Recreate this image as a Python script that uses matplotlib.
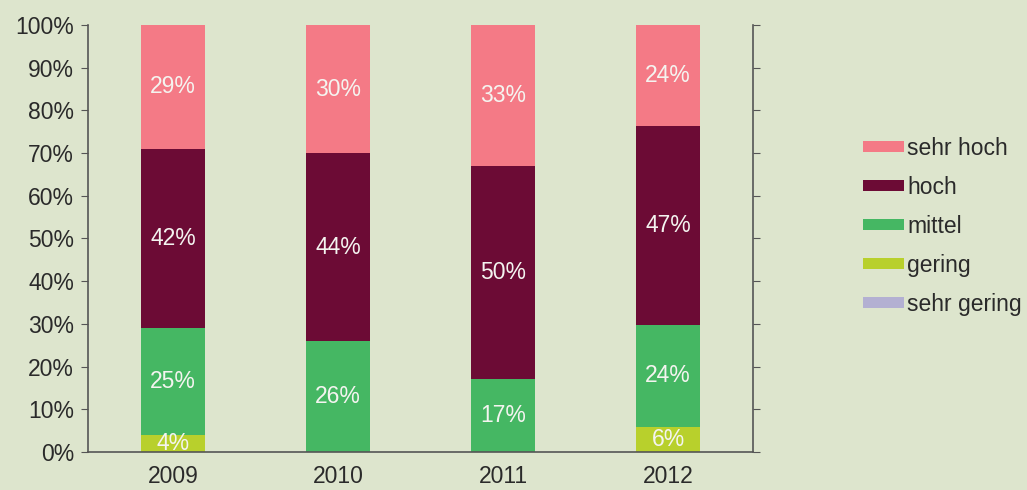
import matplotlib
matplotlib.use("Agg")
import matplotlib.pyplot as plt
import numpy as np
from matplotlib.patches import Patch

years = ["2009", "2010", "2011", "2012"]
series = ["sehr hoch", "hoch", "mittel", "gering", "sehr gering"]
sehr_gering = [0, 0, 0, 0]
gering = [4, 0, 0, 6]
mittel = [25, 26, 17, 24]
hoch = [42, 44, 50, 47]
sehr_hoch = [29, 30, 33, 24]
yticks = [0, 10, 20, 30, 40, 50, 60, 70, 80, 90, 100]

colors = {"sehr gering": "#b3b0d2", "gering": "#b8d02c", "mittel": "#45b763",
          "hoch": "#6c0b35", "sehr hoch": "#f47a86"}
bg = "#dde5cd"
fs = 16.5

plt.rcParams['font.family'] = ['Liberation Sans', 'DejaVu Sans']
fig = plt.figure(figsize=(10.27, 4.9), dpi=100, facecolor=bg)
ax = fig.add_axes([0.0857, 0.0776, 0.6475, 0.8714])
ax.set_facecolor(bg)

stack_order = [("sehr gering", sehr_gering), ("gering", gering), ("mittel", mittel),
               ("hoch", hoch), ("sehr hoch", sehr_hoch)]
totals = np.sum([np.array(v, float) for _, v in stack_order], axis=0)
x = np.arange(len(years))
bottom = np.zeros(len(years))
for name, vals in stack_order:
    v = np.array(vals, float) / totals * 100
    ax.bar(x, v, 0.39, bottom=bottom, color=colors[name], linewidth=0)
    for i, (raw, h) in enumerate(zip(vals, v)):
        if raw > 0:
            ax.text(x[i], bottom[i] + h / 2, f"{raw}%", ha="center", va="center",
                    color="#f4f4f0", fontsize=fs)
    bottom += v

ax.set_xlim(-0.515, 3.515)
ax.set_ylim(0, 100)
ax.set_xticks(x)
ax.set_xticklabels(years, fontsize=fs, color="#2a2a2a")
ax.set_yticks(yticks)
ax.set_yticklabels([f"{t}%" for t in yticks], fontsize=fs, color="#2a2a2a")
ax.tick_params(axis="x", length=0, pad=9.5)
ax.tick_params(axis="y", direction="out", length=5, color="#555555", pad=5)
ax.spines["top"].set_visible(False)
for s in ["left", "right", "bottom"]:
    ax.spines[s].set_color("#555555")
    ax.spines[s].set_linewidth(1.2)

ax2 = ax.twinx()
ax2.set_ylim(0, 100)
ax2.set_yticks(yticks)
ax2.set_yticklabels([])
ax2.tick_params(axis="y", direction="out", length=5, color="#555555")
for s in ["top", "left", "bottom", "right"]:
    ax2.spines[s].set_visible(False)

handles = [Patch(facecolor=colors[n], edgecolor="none") for n in series]
fig.legend(handles, series, loc="upper left", bbox_to_anchor=(0.840, 0.721),
           frameon=False, fontsize=fs, handlelength=1.8, handleheight=0.4,
           handletextpad=0.15, labelspacing=0.7, labelcolor="#2a2a2a",
           borderaxespad=0, borderpad=0)

fig.savefig("out.png", dpi=100, facecolor=bg)
